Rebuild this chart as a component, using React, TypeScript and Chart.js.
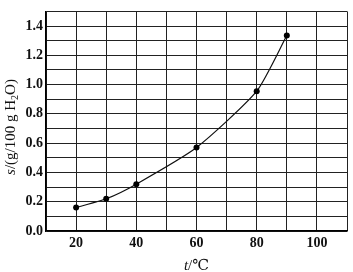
import React, { useEffect, useRef } from "react";
import { Chart, registerables } from "chart.js";

Chart.register(...registerables);

const temperatures = [20, 30, 40, 60, 80, 90];
const solubility = [0.16, 0.22, 0.32, 0.57, 0.955, 1.335];
const xTickLabels = [20, 40, 60, 80, 100];
const yTickLabels = [0.0, 0.2, 0.4, 0.6, 0.8, 1.0, 1.2, 1.4];

const SERIF = "'Liberation Serif', 'DejaVu Serif', serif";

const titlePlugin = {
  id: "mixedTitles",
  afterDraw(chart: any) {
    const ctx = chart.ctx as CanvasRenderingContext2D;
    const area = chart.chartArea;
    ctx.save();
    ctx.fillStyle = "#111";
    ctx.textBaseline = "alphabetic";
    ctx.textAlign = "left";

    // x title: t/℃
    const fi = `italic 15px ${SERIF}`;
    const fn = `15px ${SERIF}`;
    ctx.font = fi;
    const wt = ctx.measureText("t").width;
    ctx.font = fn;
    const wr = ctx.measureText("/℃").width;
    const cx = (area.left + area.right) / 2;
    let x0 = cx - (wt + wr) / 2;
    const by = 270;
    ctx.font = fi;
    ctx.fillText("t", x0, by);
    ctx.font = fn;
    ctx.fillText("/℃", x0 + wt, by);

    // y title: s/(g/100 g H₂O)
    const parts: [string, string, number][] = [
      ["s", `italic 15px ${SERIF}`, 0],
      ["/(g/100 g H", `15px ${SERIF}`, 0],
      ["2", `10px ${SERIF}`, 3],
      ["O)", `15px ${SERIF}`, 0],
    ];
    let total = 0;
    const widths = parts.map(([t, f]) => {
      ctx.font = f;
      const w = ctx.measureText(t).width;
      total += w;
      return w;
    });
    const cy = 127;
    ctx.translate(15, cy);
    ctx.rotate(-Math.PI / 2);
    let px = -total / 2;
    parts.forEach(([t, f, dy], i) => {
      ctx.font = f;
      ctx.fillText(t, px, dy);
      px += widths[i];
    });
    ctx.restore();
  },
};

export default function App() {
  const canvasRef = useRef<HTMLCanvasElement | null>(null);

  useEffect(() => {
    if (!canvasRef.current) return;
    const chart = new Chart(canvasRef.current, {
      type: "line",
      data: {
        datasets: [
          {
            data: temperatures.map((t, i) => ({ x: t, y: solubility[i] })),
            borderColor: "#111",
            borderWidth: 1.2,
            backgroundColor: "#000",
            pointRadius: 3,
            pointBackgroundColor: "#000",
            pointBorderWidth: 0,
            tension: 0.2,
            fill: false,
          },
        ],
      },
      options: {
        animation: false,
        responsive: false,
        maintainAspectRatio: false,
        layout: { padding: { top: 5, right: 6, left: 0, bottom: 0 } },
        plugins: {
          legend: { display: false },
          tooltip: { enabled: false },
        },
        scales: {
          x: {
            type: "linear",
            min: 10,
            max: 110,
            afterFit(scale: any) {
              scale.height = 41;
            },
            ticks: {
              stepSize: 10,
              padding: 4,
              color: "#111",
              font: { family: SERIF, size: 14, weight: "bold" },
              maxRotation: 0,
              autoSkip: false,
              callback: (v: any) => {
                const n = Math.round(Number(v));
                return xTickLabels.includes(n) ? String(n) : "";
              },
            },
            grid: { color: "#222", lineWidth: 1, drawTicks: false },
            border: { color: "#000", width: 1.5 },
          },
          y: {
            type: "linear",
            min: 0,
            max: 1.5,
            afterFit(scale: any) {
              scale.width = 46;
            },
            ticks: {
              stepSize: 0.1,
              padding: 3,
              color: "#111",
              font: { family: SERIF, size: 14, weight: "bold" },
              autoSkip: false,
              callback: (v: any) => {
                const n = Math.round(Number(v) * 10) / 10;
                const hit = yTickLabels.find((l) => Math.abs(l - n) < 1e-6);
                return hit !== undefined ? hit.toFixed(1) : "";
              },
            },
            grid: { color: "#222", lineWidth: 1, drawTicks: false },
            border: { color: "#000", width: 1.5 },
          },
        },
      },
      plugins: [titlePlugin],
    });
    return () => chart.destroy();
  }, []);

  return (
    <div style={{ position: "fixed", left: 0, top: 0, width: 353, height: 272, background: "#fff" }}>
      <canvas ref={canvasRef} width={353} height={272} style={{ width: 353, height: 272 }} />
    </div>
  );
}
